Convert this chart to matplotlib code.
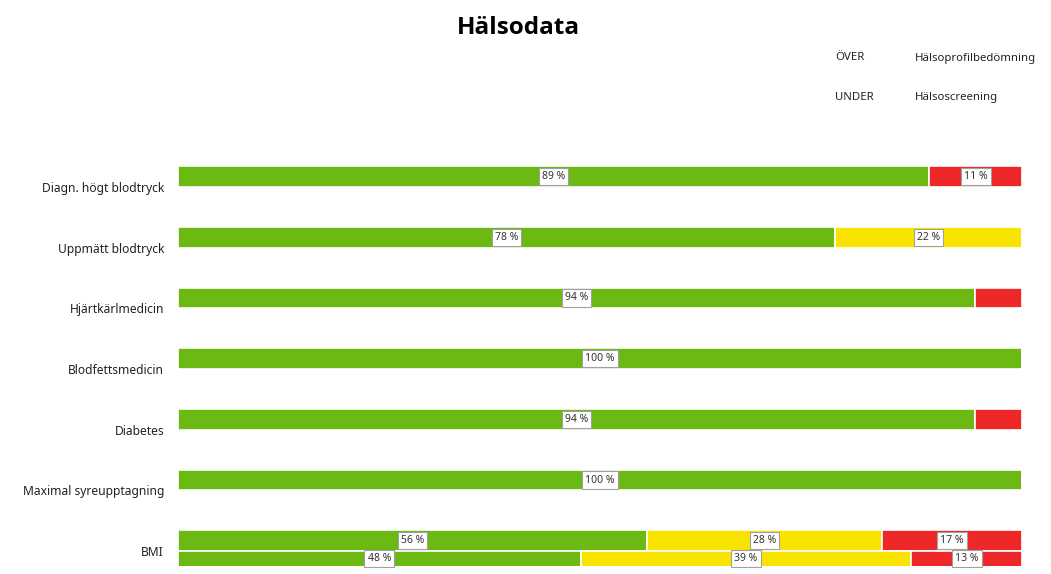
import numpy as np
import matplotlib
matplotlib.use("Agg")
from matplotlib import pyplot as plt

plt.rcParams['font.family'] = ['Noto Sans', 'DejaVu Sans']

categories = ['Diagn. högt blodtryck', 'Uppmätt blodtryck', 'Hjärtkärlmedicin',
              'Blodfettsmedicin', 'Diabetes', 'Maximal syreupptagning', 'BMI']

# ÖVER = Hälsoprofilbedömning, UNDER = Hälsoscreening (only BMI has UNDER values)
over_green = [89.0, 77.8, 94.4, 100.0, 94.4, 100.0, 55.6]
over_yellow = [0.0, 22.2, 0.0, 0.0, 0.0, 0.0, 27.8]
over_red = [11.0, 0.0, 5.6, 0.0, 5.6, 0.0, 16.6]

under_green = [0, 0, 0, 0, 0, 0, 47.7]
under_yellow = [0, 0, 0, 0, 0, 0, 39.2]
under_red = [0, 0, 0, 0, 0, 0, 13.1]

colors = ['#6cb914', '#f9e400', '#ee2828']

fig = plt.figure(figsize=(10.51, 5.74), dpi=100)
ax = fig.add_axes([178 / 1051, 8 / 574, 844 / 1051, 409 / 574])

y = np.arange(len(categories))
h = 0.34
off = 0.172
ybottom, ytop = 6.244, -0.494


def draw_row(ypos, segs):
    left = np.zeros(len(categories))
    for vals, col in zip(segs, colors):
        vals = np.array(vals, dtype=float)
        bars = ax.barh(ypos, vals, left=left, height=h, color=col,
                       edgecolor='white', linewidth=1.2)
        for b, v in zip(bars, vals):
            if v >= 10:
                # centre of the visible part of the bar
                y0 = b.get_y()
                y1 = min(b.get_y() + b.get_height(), ybottom)
                ax.text(b.get_x() + b.get_width() / 2, (y0 + y1) / 2,
                        f'{v:.0f} %', ha='center', va='center', fontsize=7.5,
                        color='#333333',
                        bbox=dict(boxstyle='square,pad=0.3', fc='white', ec='#a0a0a0', lw=0.8))
        left += vals


draw_row(y - off, [over_green, over_yellow, over_red])
draw_row(y + off, [under_green, under_yellow, under_red])

ax.set_xlim(0, 100)
ax.set_ylim(ybottom, ytop)
ax.set_yticks(y)
ax.set_yticklabels(categories, fontsize=8.7, color='#222222')
ax.tick_params(axis='y', length=0, pad=10)
ax.set_xticks([])
for s in ax.spines.values():
    s.set_visible(False)

fig.text(518 / 1051, 1 - 28 / 574, 'Hälsodata', ha='center', va='center',
         fontsize=17.5, fontweight='bold', color='black', family=['Open Sans', 'DejaVu Sans'])
fig.text(835 / 1051, 1 - 58 / 574, 'ÖVER', ha='left', va='center', fontsize=8.2, color='#222222')
fig.text(915 / 1051, 1 - 58 / 574, 'Hälsoprofilbedömning', ha='left', va='center', fontsize=8.2, color='#222222')
fig.text(835 / 1051, 1 - 97 / 574, 'UNDER', ha='left', va='center', fontsize=8.2, color='#222222')
fig.text(915 / 1051, 1 - 97 / 574, 'Hälsoscreening', ha='left', va='center', fontsize=8.2, color='#222222')

fig.savefig('out.png', dpi=100)
